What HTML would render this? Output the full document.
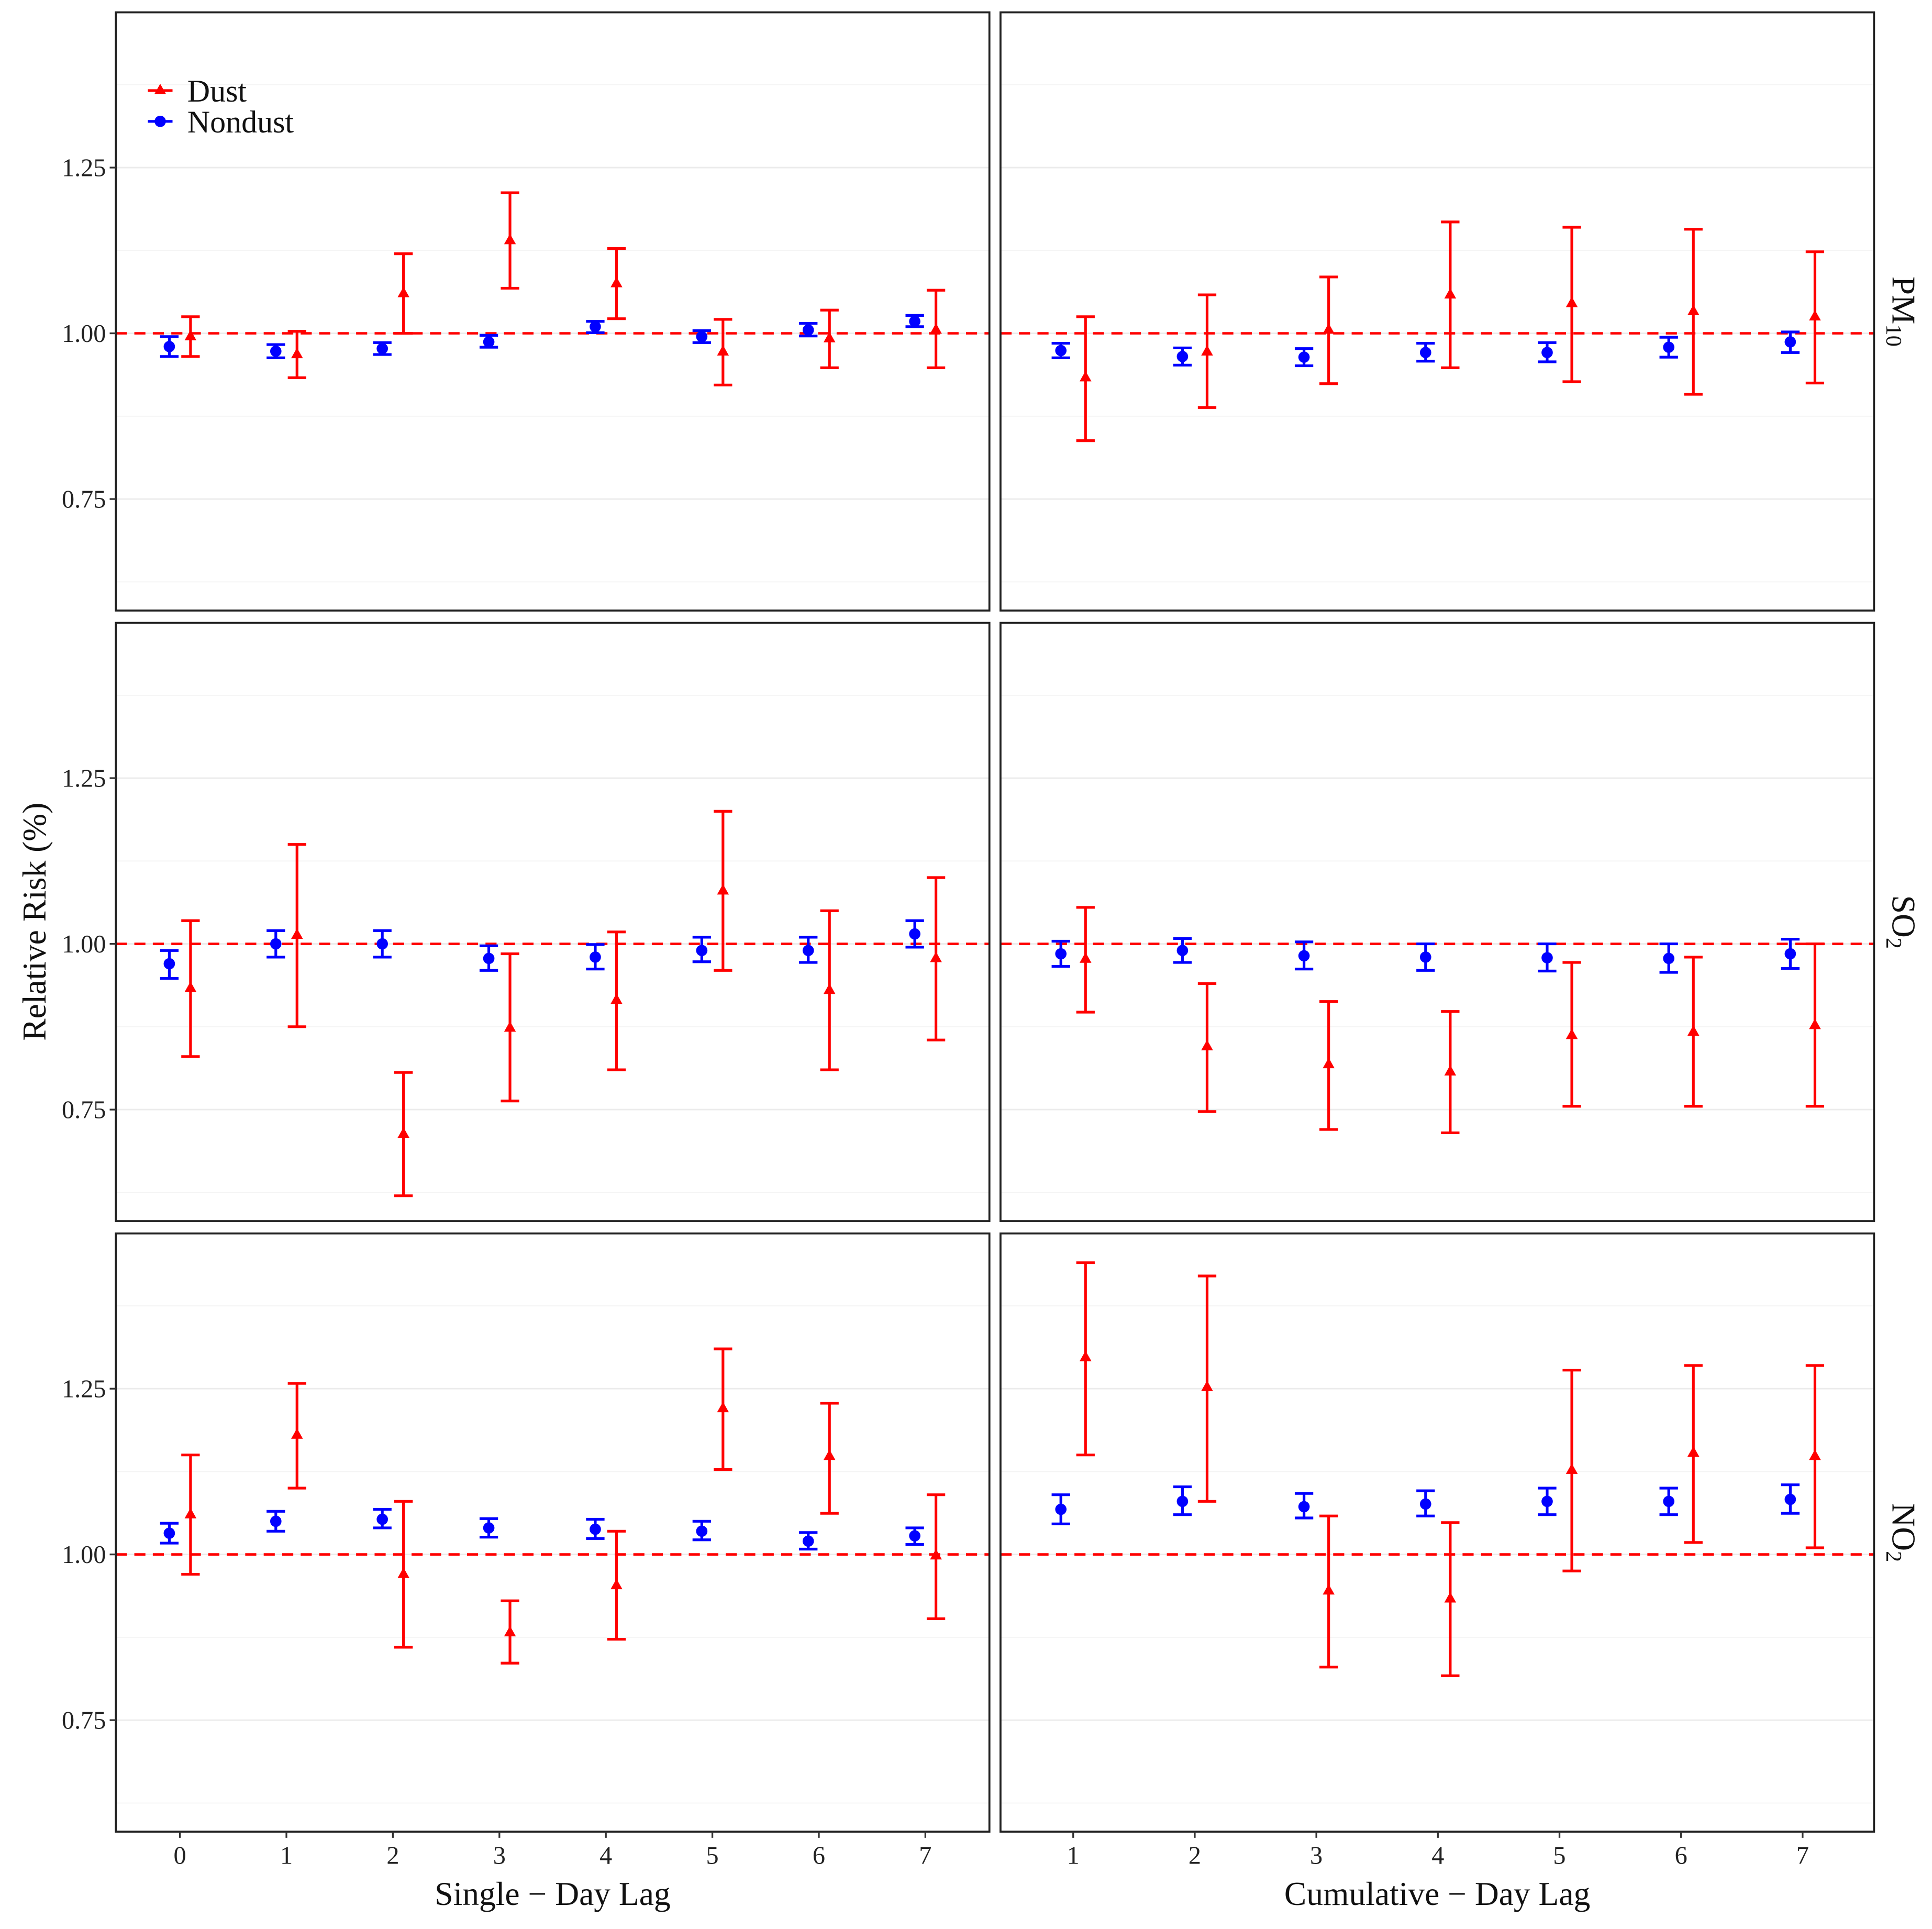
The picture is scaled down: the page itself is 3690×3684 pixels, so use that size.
<!DOCTYPE html>
<html><head><meta charset="utf-8"><style>html,body{margin:0;padding:0;background:#fff}svg{display:block}</style></head>
<body>
<svg id="chart" width="3690" height="3684" viewBox="0 0 1568 1565.5" xmlns="http://www.w3.org/2000/svg" font-family="'Liberation Serif', serif">
<rect width="1568" height="1566" fill="#fff"/>
<g id="root"></g>
</svg>
<script>
// ---- data ----
const singleLags = [0,1,2,3,4,5,6,7];
const cumLags = [1,2,3,4,5,6,7];
const yTicks = [0.75, 1.00, 1.25];
const yTickLabels = ["0.75","1.00","1.25"];
const rowLabels = ["PM10","SO2","NO2"];
// PM10
const pm10SingleNon = [0.980,0.973,0.977,0.987,1.010,0.995,1.005,1.018];
const pm10SingleNonLo = [0.965,0.963,0.968,0.979,1.001,0.986,0.996,1.010];
const pm10SingleNonHi = [0.995,0.983,0.986,0.997,1.018,1.004,1.015,1.027];
const pm10SingleDust = [0.995,0.968,1.060,1.140,1.075,0.972,0.992,1.005];
const pm10SingleDustLo = [0.965,0.933,1.000,1.068,1.022,0.922,0.948,0.948];
const pm10SingleDustHi = [1.025,1.003,1.120,1.212,1.128,1.021,1.035,1.065];
const pm10CumNon = [0.974,0.965,0.964,0.971,0.971,0.979,0.987];
const pm10CumNonLo = [0.963,0.952,0.951,0.958,0.957,0.964,0.971];
const pm10CumNonHi = [0.985,0.978,0.977,0.985,0.986,0.994,1.002];
const pm10CumDust = [0.933,0.972,1.005,1.058,1.045,1.033,1.025];
const pm10CumDustLo = [0.838,0.888,0.924,0.948,0.927,0.908,0.925];
const pm10CumDustHi = [1.025,1.058,1.085,1.168,1.160,1.157,1.123];
// SO2
const so2SingleNon = [0.970,1.000,1.000,0.978,0.980,0.990,0.990,1.015];
const so2SingleNonLo = [0.948,0.980,0.980,0.960,0.962,0.973,0.972,0.995];
const so2SingleNonHi = [0.990,1.020,1.020,0.997,0.999,1.010,1.010,1.035];
const so2SingleDust = [0.933,1.013,0.713,0.873,0.915,1.080,0.930,0.978];
const so2SingleDustLo = [0.830,0.875,0.620,0.763,0.810,0.960,0.810,0.855];
const so2SingleDustHi = [1.035,1.150,0.806,0.985,1.018,1.200,1.050,1.100];
const so2CumNon = [0.985,0.990,0.982,0.980,0.979,0.978,0.985];
const so2CumNonLo = [0.966,0.972,0.962,0.960,0.959,0.957,0.963];
const so2CumNonHi = [1.004,1.008,1.003,1.000,1.000,1.000,1.007];
const so2CumDust = [0.977,0.845,0.818,0.807,0.862,0.867,0.877];
const so2CumDustLo = [0.897,0.747,0.720,0.715,0.755,0.755,0.755];
const so2CumDustHi = [1.055,0.940,0.913,0.898,0.972,0.980,1.000];
// NO2
const no2SingleNon = [1.032,1.050,1.053,1.040,1.038,1.035,1.020,1.028];
const no2SingleNonLo = [1.017,1.035,1.040,1.026,1.024,1.022,1.008,1.015];
const no2SingleNonHi = [1.047,1.065,1.068,1.054,1.053,1.050,1.033,1.040];
const no2SingleDust = [1.060,1.180,0.970,0.882,0.953,1.220,1.148,0.998];
const no2SingleDustLo = [0.970,1.100,0.860,0.836,0.872,1.128,1.062,0.903];
const no2SingleDustHi = [1.150,1.258,1.080,0.930,1.035,1.310,1.228,1.090];
const no2CumNon = [1.068,1.080,1.072,1.076,1.080,1.080,1.083];
const no2CumNonLo = [1.046,1.060,1.055,1.058,1.060,1.060,1.062];
const no2CumNonHi = [1.090,1.102,1.092,1.096,1.100,1.100,1.105];
const no2CumDust = [1.297,1.252,0.945,0.933,1.127,1.153,1.148];
const no2CumDustLo = [1.150,1.080,0.830,0.817,0.975,1.018,1.010];
const no2CumDustHi = [1.440,1.420,1.058,1.048,1.278,1.285,1.285];

const NS='http://www.w3.org/2000/svg';
const root=document.getElementById('root');
function mk(tag,attrs,parent){const e=document.createElementNS(NS,tag);for(const k in attrs)e.setAttribute(k,attrs[k]);(parent||root).appendChild(e);return e;}

const rowTops=[10,505.5,1001];
const panelH=485.5;
const colX=[[94,803],[812,1521]];
function yScale(row,v){return rowTops[row]+260.5-(v-1)*538;}
function xSingle(v){return 146+v*86.43;}
function xCum(v){return 871+(v-1)*98.67;}

const rows=[
 [pm10SingleNon,pm10SingleNonLo,pm10SingleNonHi,pm10SingleDust,pm10SingleDustLo,pm10SingleDustHi,pm10CumNon,pm10CumNonLo,pm10CumNonHi,pm10CumDust,pm10CumDustLo,pm10CumDustHi],
 [so2SingleNon,so2SingleNonLo,so2SingleNonHi,so2SingleDust,so2SingleDustLo,so2SingleDustHi,so2CumNon,so2CumNonLo,so2CumNonHi,so2CumDust,so2CumDustLo,so2CumDustHi],
 [no2SingleNon,no2SingleNonLo,no2SingleNonHi,no2SingleDust,no2SingleDustLo,no2SingleDustHi,no2CumNon,no2CumNonLo,no2CumNonHi,no2CumDust,no2CumDustLo,no2CumDustHi]
];

function drawSeries(g,row,lags,xs,off,vals,lo,hi,color,shape){
  lags.forEach((l,i)=>{
    const x=xs(l)+off;
    const y1=yScale(row,lo[i]),y2=yScale(row,hi[i]),y=yScale(row,vals[i]);
    const bar=mk('g',{},g);
    
    
    mk('line',{x1:x,x2:x,y1:y1,y2:y2,stroke:color,'stroke-width':2.2},bar);
    mk('line',{x1:x-7.5,x2:x+7.5,y1:y1,y2:y1,stroke:color,'stroke-width':2.2},bar);
    mk('line',{x1:x-7.5,x2:x+7.5,y1:y2,y2:y2,stroke:color,'stroke-width':2.2},bar);
    let m;
    if(shape==='tri'){m=mk('polygon',{points:`${x},${y-5.5} ${x-4.8},${y+3} ${x+4.8},${y+3}`,fill:color},bar);}
    else{m=mk('circle',{cx:x,cy:y,r:4.6,fill:color},bar);}
    
    
  });
}

for(let r=0;r<3;r++){
  for(let c=0;c<2;c++){
    const [x0,x1]=colX[c];const top=rowTops[r];
    const g=mk('g',{});
    
    
    [0.625,0.875,1.125,1.375].forEach(v=>mk('line',{x1:x0,x2:x1,y1:yScale(r,v),y2:yScale(r,v),stroke:'#f4f4f4','stroke-width':0.8},g));
    yTicks.forEach(v=>mk('line',{x1:x0,x2:x1,y1:yScale(r,v),y2:yScale(r,v),stroke:'#ebebeb','stroke-width':1.2},g));
    const lags=c?cumLags:singleLags;const xs=c?xCum:xSingle;
    const ref=mk('line',{x1:x0,x2:x1,y1:yScale(r,1),y2:yScale(r,1),stroke:'#ff0000','stroke-width':2,'stroke-dasharray':'9,6'},g);
    
    
    const d=rows[r];const o=c?6:0;const off=c?10:8.6;
    drawSeries(g,r,lags,xs,-off,d[o],d[o+1],d[o+2],'#0000ff','circ');
    drawSeries(g,r,lags,xs,off,d[o+3],d[o+4],d[o+5],'#ff0000','tri');
    mk('rect',{x:x0,y:top,width:x1-x0,height:panelH,fill:'none',stroke:'#222','stroke-width':1.6},g);
    if(c===0){
      yTicks.forEach((v,i)=>{
        mk('line',{x1:x0-5,x2:x0,y1:yScale(r,v),y2:yScale(r,v),stroke:'#333','stroke-width':1.4},g);
        const t=mk('text',{x:x0-8,y:yScale(r,v)+7,'text-anchor':'end','font-size':20.5,fill:'#222'},g);
        t.textContent=yTickLabels[i];
        
        
      });
    }
    if(r===2){
      lags.forEach(l=>{
        mk('line',{x1:xs(l),x2:xs(l),y1:top+panelH,y2:top+panelH+5,stroke:'#333','stroke-width':1.4},g);
        const t=mk('text',{x:xs(l),y:top+panelH+26,'text-anchor':'middle','font-size':20.5,fill:'#222'},g);
        t.textContent=String(l);
        
        
      });
    }
  }
  const cy=rowTops[r]+panelH/2;
  const t=mk('text',{x:0,y:0,transform:`translate(1536,${cy}) rotate(90)`,'text-anchor':'middle','font-size':27,fill:'#111'});
  
  
  t.innerHTML=rowLabels[r].slice(0,rowLabels[r].length-(r===0?2:1))+'<tspan font-size="18" dy="5">'+(r===0?'10':'2')+'</tspan>';
}
let t=mk('text',{x:448.5,y:1546,'text-anchor':'middle','font-size':27,fill:'#111'});t.textContent='Single \u2212 Day Lag';

t=mk('text',{x:1166.5,y:1546,'text-anchor':'middle','font-size':27,fill:'#111'});t.textContent='Cumulative \u2212 Day Lag';

t=mk('text',{x:0,y:0,transform:'translate(37,748) rotate(-90)','text-anchor':'middle','font-size':27,fill:'#111'});t.textContent='Relative Risk (%)';

const lg=mk('g',{});
mk('line',{x1:120,x2:140,y1:73.5,y2:73.5,stroke:'#ff0000','stroke-width':2.2},lg);
mk('polygon',{points:'130,68 125.2,76.5 134.8,76.5',fill:'#ff0000'},lg);
mk('line',{x1:120,x2:140,y1:98.5,y2:98.5,stroke:'#0000ff','stroke-width':2.2},lg);
mk('circle',{cx:130,cy:98.5,r:4.6,fill:'#0000ff'},lg);
t=mk('text',{x:152,y:82.5,'font-size':25.5,fill:'#111'},lg);t.textContent='Dust';

t=mk('text',{x:152,y:107.5,'font-size':25.5,fill:'#111'},lg);t.textContent='Nondust';

</script>
</body></html>
